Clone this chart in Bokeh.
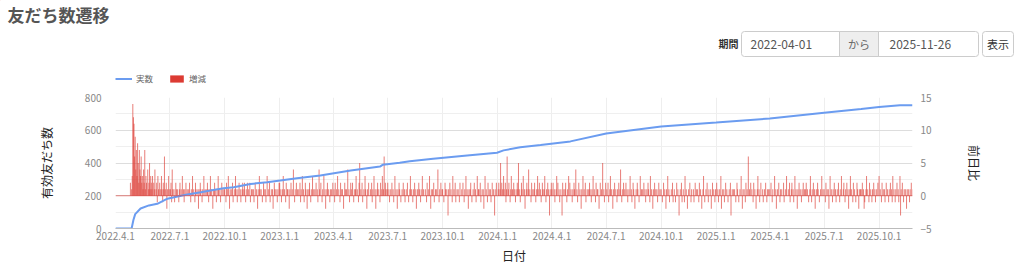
import pandas as pd
from bokeh.plotting import figure
from bokeh.layouts import column, row
from bokeh.models import (Range1d, LinearAxis, FixedTicker, Label, BoxAnnotation,
                          Legend, LegendItem, Span, ColumnDataSource)
from bokeh.embed import file_html
from bokeh.resources import INLINE

# ---------------- data ----------------
START = "2022-04-01"
END = "2025-11-26"

TICK_LABELS = ["2022.4.1", "2022.7.1", "2022.10.1", "2023.1.1", "2023.4.1", "2023.7.1",
               "2023.10.1", "2024.1.1", "2024.4.1", "2024.7.1", "2024.10.1", "2025.1.1",
               "2025.4.1", "2025.7.1", "2025.10.1"]
LEFT_TICKS = [0, 200, 400, 600, 800]
LEFT_MINOR = [100, 300, 500, 700]
RIGHT_TICKS = [-5, 0, 5, 10, 15]

# 実数 (valid friends), read at sample dates
LINE_DATES = ["2022-04-01", "2022-04-28", "2022-05-01", "2022-05-04", "2022-05-13", "2022-05-27",
              "2022-06-10", "2022-06-27", "2022-07-14", "2022-07-30", "2022-08-22", "2022-09-07",
              "2022-09-29", "2022-10-16", "2022-11-13", "2022-12-11", "2023-01-02", "2023-01-30",
              "2023-03-10", "2023-04-30", "2023-06-18", "2023-06-23", "2023-07-21", "2023-08-07",
              "2023-09-15", "2023-11-11", "2023-12-31", "2024-01-11", "2024-02-08", "2024-03-13",
              "2024-05-02", "2024-07-01", "2024-10-01", "2025-01-01", "2025-04-01", "2025-07-01",
              "2025-09-01", "2025-10-01", "2025-11-05", "2025-11-26"]
LINE_VALUES = [0, 0, 52, 88, 122, 141, 151, 182, 196, 208, 222, 232, 246, 252, 272, 282, 293, 307,
               323, 354, 378, 390, 401, 410, 426, 446, 463, 477, 496, 510, 532, 580, 623, 647, 672,
               707, 730, 742, 752, 752]

# 増減 (daily change), one row per month
CHANGE_2022 = [  # from April
    [0, 0, 0, 0, 0, 0, 0, 0, 0, 0, 0, 0, 0, 0, 0, 0, 0, 0, 0, 0, 0, 0, 0, 0, 0, 2, 0, 1, 3, 14],
    [12, 11, 6, 9, 4, 7, 3, 8, 5, 2, 7, 4, 3, 6, 2, 3, 1, 4, 2, 7, 1, 3, 2, 0, 4, 1, 2, 5, 1, 3, 2],
    [1, 3, 0, 2, 1, 4, 0, 1, 2, -1, 3, 1, 0, 2, 1, 0, 3, 1, -1, 2, 1, 6, 0, 1, 2, -2, 1, 0, 3, 1],
    [0, 1, 2, -1, 4, 1, 0, 1, -1, 0, 2, 1, 0, 1, 0, -1, 1, 2, 0, 1, 0, 3, 0, 1, -1, 1, 0, 2, 0, 1, 0],
    [1, 0, 2, 0, -1, 1, 0, 3, 0, 1, 0, -1, 2, 1, 0, 0, 1, -2, 1, 0, 2, 1, 0, -1, 1, 0, 3, 0, 1, 0, 1],
    [0, 2, 1, -1, 0, 1, 3, 0, 1, 0, -2, 1, 0, 2, 1, 0, -1, 1, 0, 3, 1, 0, 1, -1, 0, 2, 0, 1, 0, 1],
    [1, 0, -1, 2, 0, 1, 3, 0, -2, 1, 0, 1, 0, 2, -1, 0, 1, 0, 3, 1, 0, -1, 1, 0, 2, 0, 1, -1, 0, 1, 2],
    [0, 1, 2, 0, -1, 1, 0, 2, 0, 1, 0, 2, -1, 0, 1, 1, 0, 1, -1, 0, 2, 0, 1, 0, -2, 1, 0, 3, 1, 0],
    [1, 0, -1, 0, 2, 1, 0, 1, -1, 0, 3, 0, 1, 0, 2, -1, 0, 1, 0, 1, -2, 0, 2, 1, 0, 1, 0, -1, 1, 0, 2],
]
CHANGE_2023 = [
    [2, 0, 1, -1, 0, 1, 3, 0, 1, 0, -1, 2, 0, 1, 1, 0, -2, 1, 0, 2, 0, 1, 0, 4, 0, -1, 1, 0, 2, 0, 1],
    [0, 1, 0, 2, -1, 1, 0, 3, 0, 1, -1, 0, 2, 1, 0, -2, 1, 0, 1, 2, 0, -1, 1, 0, 3, 0, 1, 0],
    [1, 0, 2, 0, 1, -1, 0, 4, 1, 0, 2, 0, -1, 1, 0, 3, 0, 1, -2, 0, 1, 2, 0, 1, 0, -1, 1, 0, 1, 0, 2],
    [0, 1, -1, 2, 0, 1, 0, 3, 0, 1, 0, -1, 2, 0, 1, 1, 0, -2, 0, 2, 1, 0, 1, 0, 4, 0, 1, -1, 0, 2],
    [1, 0, 2, 0, -1, 1, 0, 1, 3, 0, 1, 0, -1, 2, 5, 0, 1, 0, 2, -1, 0, 1, 0, 3, 1, 0, -2, 1, 0, 2, 0],
    [0, 1, 0, 2, -1, 1, 0, 3, 0, 1, -2, 0, 1, 2, 0, 1, 0, -1, 2, 0, 1, 3, 0, 1, 6, 0, 2, 1, 0, 1],
    [2, 0, 1, -1, 0, 1, 0, 2, 0, 1, -1, 0, 3, 0, 1, 0, -2, 1, 0, 2, 1, 0, -1, 0, 1, 0, 2, 0, 1, -1, 0],
    [1, 0, 2, 0, -1, 0, 1, 3, 0, 1, 0, -1, 1, 0, 2, 0, 1, -2, 0, 1, 0, 2, 1, 0, -1, 1, 0, 3, 0, 1, 0],
    [0, 1, 0, -1, 2, 0, 1, 0, 3, 0, -2, 1, 0, 1, 0, 2, -1, 0, 1, 0, 1, 0, 4, 0, -1, 1, 0, 2, 0, 1],
    [1, 0, -1, 0, 2, 1, 0, 1, 0, -3, 1, 0, 2, 0, 1, 0, -1, 3, 0, 1, 0, 2, -1, 0, 1, 0, 1, 0, -1, 2, 0],
    [0, 1, 0, 2, 0, -1, 1, 0, 3, 0, 1, 0, -2, 1, 0, 1, 2, 0, -1, 0, 1, 0, 2, 0, 1, -1, 0, 3, 0, 1],
    [1, 0, 2, -1, 0, 1, 0, 1, -2, 0, 3, 0, 1, 0, -1, 2, 0, 1, 0, 1, -1, 0, 2, 0, 1, 0, -3, 1, 0, 2, 0],
]
CHANGE_2024 = [
    [0, 1, 2, 0, 1, 5, 0, 2, 1, 0, 3, 1, 0, 2, -1, 1, 6, 0, 1, 2, 0, -1, 1, 3, 0, 1, 0, 2, 1, 0, -1],
    [1, 0, 2, 1, 5, 0, 1, -1, 0, 2, 1, 0, 3, 0, 1, -2, 0, 1, 2, 0, 1, 4, 0, 1, 0, -1, 2, 0, 1],
    [0, 1, 2, 0, -1, 1, 0, 3, 1, 0, 2, 0, 1, -1, 0, 2, 1, 0, 1, 3, 0, -1, 1, 0, 2, 1, 0, -3, 1, 0, 2],
    [1, 0, 2, 0, 1, -1, 0, 1, 3, 0, 2, 0, 1, -1, 0, 1, 0, -3, 2, 0, 1, 0, 1, 2, 0, -1, 1, 0, 3, 0],
    [2, 0, 1, 0, -1, 1, 0, 2, 1, 0, 4, 0, 1, -1, 0, 2, 0, 1, 0, -2, 1, 0, 3, 0, 1, 0, 2, -1, 0, 1, 0],
    [1, 0, 2, 1, 0, -1, 1, 0, 3, 0, 1, 0, -1, 2, 0, 1, 1, 0, -2, 0, 2, 0, 1, 0, 5, 0, 1, -1, 0, 2],
    [0, 1, 0, 2, -1, 0, 1, 3, 0, 1, 0, -2, 1, 0, 2, 0, 1, 0, -1, 1, 0, 2, 0, 1, 4, 0, -1, 1, 0, 2, 0],
    [1, 0, 2, 0, 1, -1, 0, 1, 0, 3, 0, 1, -1, 0, 2, 1, 0, -2, 0, 1, 0, 2, 1, 0, -1, 0, 3, 0, 1, 0, 1],
    [0, 2, 0, 1, -1, 0, 1, 0, 2, 1, 0, -1, 3, 0, 1, 0, -2, 1, 0, 2, 0, 1, 0, 1, -1, 0, 2, 0, 1, 0],
    [1, 0, -1, 0, 2, 0, 1, 0, -2, 1, 0, 3, 0, 1, -1, 0, 0, 1, 0, 2, -1, 0, 1, 0, -1, 0, 2, 0, 1, 0, -3],
    [0, 1, 0, 2, -1, 0, 1, 0, -1, 3, 0, 1, 0, -2, 0, 1, 0, 2, 0, -1, 1, 0, 0, 1, -1, 0, 2, 0, 1, 0],
    [1, 0, -1, 2, 0, 1, 0, -2, 0, 1, 3, 0, -1, 0, 1, 0, 2, 0, -1, 1, 0, 0, 1, -2, 0, 2, 0, 1, 0, -1, 1],
]
CHANGE_2025 = [
    [0, 2, 0, 1, -1, 0, 1, 0, 3, -2, 0, 1, 0, 1, -1, 0, 2, 0, 1, 0, -1, 0, 1, 0, 2, -3, 0, 1, 0, 1, 0],
    [1, 0, -1, 0, 2, 1, 0, -1, 0, 1, 0, 3, 0, -2, 1, 0, 1, 0, -1, 2, 0, 1, 0, 6, 0, 1, 0, 2],
    [0, 1, 0, -1, 2, 0, 1, 0, -2, 0, 1, 3, 0, 1, -1, 0, 2, 0, 0, 1, -1, 0, 1, 0, 2, 0, -1, 1, 0, 1, 0],
    [1, 0, 2, 0, -1, 1, 0, 0, 3, 0, 1, -2, 0, 1, 0, 2, 0, -1, 1, 0, 1, 0, 0, 2, -1, 0, 1, 0, 3, 0],
    [0, 1, 0, 2, -1, 0, 1, 2, 0, 1, -1, 0, 3, 0, 1, 0, -2, 1, 0, 2, 0, 1, 0, -1, 1, 0, 2, 0, 1, 0, 1],
    [2, 0, 1, 0, -1, 0, 1, 3, 0, -1, 1, 0, 2, 0, 1, -2, 0, 1, 0, 2, 1, 0, -1, 0, 1, 0, 3, 0, 1, 0],
    [1, 0, -1, 2, 0, 1, 0, 1, -2, 0, 3, 0, 1, 0, -1, 1, 0, 2, 0, 1, -1, 0, 1, 0, 2, 0, -1, 1, 0, 3, 0],
    [0, 1, 2, 0, -1, 1, 0, 2, 0, 1, -2, 0, 1, 3, 0, 1, 0, -1, 2, 0, 1, 0, -1, 0, 2, 1, 0, -2, 1, 0, 1],
    [1, 0, 2, 0, 1, -2, -1, 0, 1, 3, 0, 1, 0, -1, 2, 0, 1, 0, -1, 1, 0, 2, 0, 1, -1, 0, 1, 0, 2, 0],
    [3, 0, 1, 0, -1, 2, 0, 1, 0, 1, -1, 0, 2, 0, 1, 0, -1, 1, 0, 2, 0, 1, -1, 3, 0, 1, 0, -1, 1, 0, 2],
    [0, 1, -1, 0, 3, -3, 1, 0, 2, 0, -1, 1, 0, 1, 0, -2, 1, 0, 1, 0, -1, 1, 0, 2, 0, 1],
]
CHANGE_YEARS = [(2022, 4, CHANGE_2022), (2023, 1, CHANGE_2023), (2024, 1, CHANGE_2024), (2025, 1, CHANGE_2025)]

# ---------------- derived positions ----------------
t0 = pd.Timestamp(START)
n_days = (pd.Timestamp(END) - t0).days


def day_index(d):
    return (pd.Timestamp(d) - t0).days


bar_x, bar_y = [], []
for year, first_month, rows in CHANGE_YEARS:
    for k, r in enumerate(rows):
        m0 = pd.Timestamp(year=year, month=first_month + k, day=1)
        for i, v in enumerate(r):
            bar_x.append((m0 + pd.Timedelta(days=i) - t0).days)
            bar_y.append(v)

line_x = [day_index(d) for d in LINE_DATES]
tick_x = [day_index(pd.to_datetime(s, format="%Y.%m.%d")) for s in TICK_LABELS]

# ---------------- styling ----------------
BLUE = "#6b9cf0"
RED = "#dc3b33"
FONT = "Noto Sans CJK JP"
TICK_COLOR = "#888888"
TITLE_COLOR = "#222222"
HEADER_H = 90

# ---------------- header (title, period form, legend) ----------------
h = figure(width=1024, height=HEADER_H, output_backend="svg", toolbar_location=None,
           x_range=Range1d(0, 1024), y_range=Range1d(HEADER_H, 0),
           min_border=0, min_border_left=0, min_border_right=0, min_border_top=0, min_border_bottom=0,
           x_axis_location=None, y_axis_location=None, outline_line_color=None,
           background_fill_color="white", border_fill_color="white")
h.xgrid.visible = False
h.ygrid.visible = False


def hlabel(x, y, text, size, color, bold=False, align="left"):
    h.add_layout(Label(x=x, y=y, text=text, text_font=FONT, text_font_size=size,
                       text_color=color, text_font_style="bold" if bold else "normal",
                       text_align=align, text_baseline="middle"))


def hbox(l, r, t, b, fill, radius=0):
    h.add_layout(BoxAnnotation(left=l, right=r, top=t, bottom=b,
                               fill_color=fill, fill_alpha=1, line_color="#cccccc",
                               line_alpha=1, line_width=1, border_radius=radius))


hlabel(7, 14, "友だち数遷移", "17px", "#555555", bold=True)
hlabel(738, 43, "期間", "10px", "#333333", bold=True, align="right")
hbox(741, 978, 31, 56, "white", radius=3)
hbox(839, 878, 31, 56, "#eeeeee")
hbox(982, 1013, 31, 56, "white", radius=3)
hlabel(750, 43.5, "2022-04-01", "12px", "#555555")
hlabel(858.5, 43.5, "から", "11px", "#666666", align="center")
hlabel(889, 43.5, "2025-11-26", "12px", "#555555")
hlabel(997.5, 43.5, "表示", "11px", "#333333", align="center")

# legend swatches: renderers whose only point lies off the header's visible range
leg_line = h.line(x=[-20, -10], y=[-20, -20], line_color=BLUE, line_width=2)
leg_bar = h.vbar(x=[-20], top=[-20], bottom=[-30], width=1, fill_color=RED, line_color=None)
legend = Legend(items=[LegendItem(label="実数", renderers=[leg_line]),
                       LegendItem(label="増減", renderers=[leg_bar])],
                orientation="horizontal", location=(115, 6), glyph_width=17, glyph_height=9,
                label_height=9, label_standoff=4, spacing=12, padding=0, margin=0,
                border_line_color=None, background_fill_alpha=0,
                label_text_font=FONT, label_text_font_size="8.5px", label_text_color="#666666",
                label_text_baseline="middle")
h.add_layout(legend)

# ---------------- main chart ----------------
p = figure(width=1024, height=266 - HEADER_H, output_backend="svg", toolbar_location=None,
           x_range=Range1d(0, n_days), y_range=Range1d(LEFT_TICKS[0], LEFT_TICKS[-1]),
           min_border_left=115, min_border_right=112, min_border_top=97 - HEADER_H,
           min_border_bottom=38,
           background_fill_color="white", border_fill_color="white", outline_line_color=None)
p.extra_y_ranges = {"right": Range1d(RIGHT_TICKS[0], RIGHT_TICKS[-1])}

xticker = FixedTicker(ticks=tick_x)
lticker = FixedTicker(ticks=LEFT_TICKS, minor_ticks=LEFT_MINOR)
p.xgrid.ticker = xticker
p.xgrid.grid_line_color = "#eeeeee"
p.ygrid.ticker = lticker
p.ygrid.grid_line_color = "#dddddd"
p.ygrid.minor_grid_line_color = "#efefef"


def style_axis(ax):
    ax.major_tick_line_color = None
    ax.minor_tick_line_color = None
    ax.major_tick_out = 0
    ax.major_tick_in = 0
    ax.major_label_text_font = FONT
    ax.major_label_text_font_size = "10px"
    ax.major_label_text_color = TICK_COLOR
    ax.axis_label_text_font = FONT
    ax.axis_label_text_font_size = "12px"
    ax.axis_label_text_font_style = "normal"
    ax.axis_label_text_color = TITLE_COLOR


xa = p.xaxis[0]
style_axis(xa)
xa.ticker = xticker
xa.major_label_overrides = {t: s for t, s in zip(tick_x, TICK_LABELS)}
xa.axis_line_color = "#bbbbbb"
xa.major_label_standoff = 3
xa.axis_label = "日付"
xa.axis_label_standoff = 4

ya = p.yaxis[0]
style_axis(ya)
ya.ticker = lticker
ya.axis_line_color = None
ya.major_label_standoff = 10
ya.axis_label = "有効友だち数"
ya.axis_label_standoff = 27

ra = LinearAxis(y_range_name="right", ticker=FixedTicker(ticks=RIGHT_TICKS))
style_axis(ra)
ra.axis_line_color = None
ra.major_label_standoff = 8
ra.axis_label = "前日比"
ra.axis_label_standoff = 31
p.add_layout(ra, "right")

bars = p.vbar(x="x", top="top", bottom=0, width=1.7, y_range_name="right",
              fill_color=RED, fill_alpha=0.65, line_color=None,
              source=ColumnDataSource(dict(x=bar_x, top=bar_y)))
p.add_layout(Span(location=0, dimension="width", y_range_name="right",
                  line_color=RED, line_alpha=0.6, line_width=1))

line_r = p.line(x=line_x, y=LINE_VALUES, line_color=BLUE, line_width=2)

layout = column(row(h), p, spacing=0)
open("out.html", "w").write(file_html(layout, INLINE))
